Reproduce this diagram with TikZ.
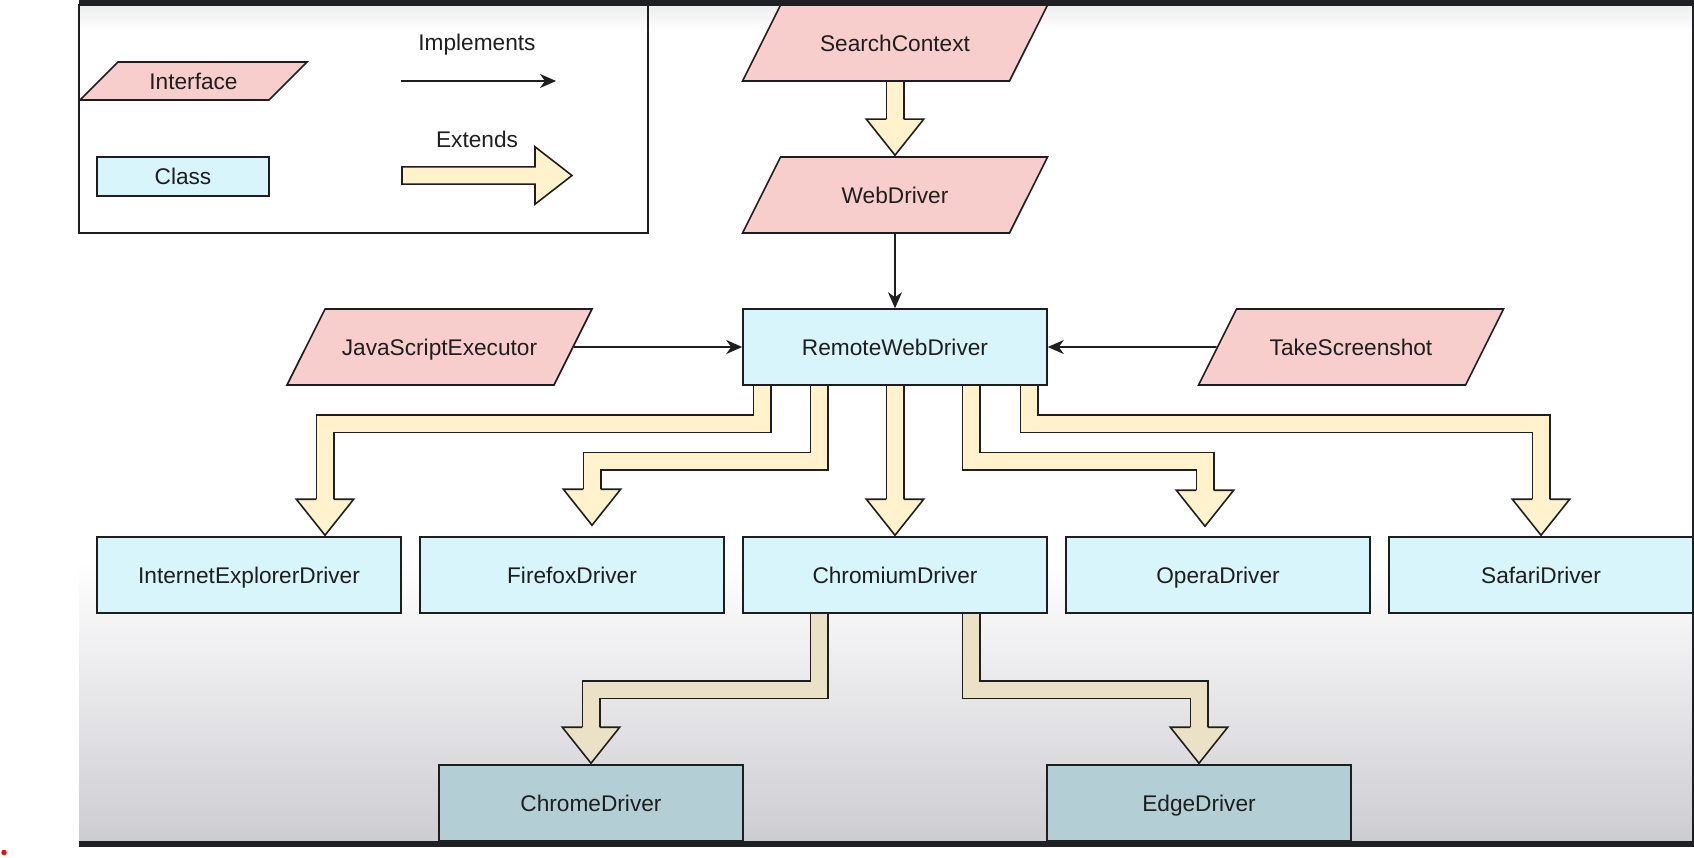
\documentclass[tikz,border=0pt]{standalone}
\usepackage{fontspec}
\setmainfont{Liberation Sans}
\usepackage{tikz}
\usepackage{xcolor}
\usetikzlibrary{shapes.geometric, arrows.meta, calc}

\definecolor{ifacepink}{HTML}{F8CECC}
\definecolor{classcyan}{HTML}{D7F5FB}
\definecolor{classteal}{HTML}{B3CFD5}
\definecolor{extcream}{HTML}{FFF2CC}
\definecolor{exttan}{HTML}{EBE1C6}
\definecolor{edgeline}{HTML}{1E1E1E}
\definecolor{screenframe}{HTML}{1F2024}
\definecolor{screenshade}{HTML}{CDCCD1}

\newcommand{\nodefont}{\fontsize{12.9}{15}\selectfont}

\tikzstyle{iface-block} = [
    trapezium, trapezium left angle=63.43, trapezium right angle=116.57,
    trapezium stretches body, minimum width=6.1cm,
    inner xsep=0pt, inner ysep=0.6cm, text height=0.32cm, text depth=0cm,
    text centered, draw=edgeline, line width=0.9pt,
    fill=ifacepink, text=edgeline, font=\nodefont
]
\tikzstyle{class-block} = [
    rectangle, minimum width=6.08cm, minimum height=1.52cm, inner sep=0pt,
    text height=0.32cm, text depth=0cm,
    text centered, draw=edgeline, line width=0.9pt, fill=classcyan,
    text=edgeline, font=\nodefont
]
\tikzstyle{sub-block} = [class-block, fill=classteal]
\tikzstyle{arrow} = [line width=0.9pt, draw=edgeline,
    -{Stealth[length=0.32cm, width=0.28cm, inset=0.1cm]}]

% fat hollow arrow: [fill] {shaft path} {head base}
\newcommand{\extendsarrow}[3][extcream]{
    \draw [line width=0.38cm, edgeline, line join=miter] #2;
    \draw [line width=0.316cm, #1, line join=miter] #2;
    \draw [line width=0.9pt, draw=edgeline, fill=#1] ([xshift=-0.174cm]#3)
        -- ++(-0.4,0) -- ++(0.574,-0.72) -- ++(0.574,0.72) -- ++(-0.4,0);
}

\begin{document}
\begin{tikzpicture}[node distance=3.04cm]
            \useasboundingbox (0,0) rectangle (33.88,-17.14);
            \fill [white] (0,0) rectangle (33.88,-17.14);
            \shade [top color=black!7, bottom color=white] (1.58,-0.1) rectangle (33.84,-0.6);
            \shade [top color=white, bottom color=screenshade] (1.58,-11.2) rectangle (33.84,-16.82);

            % legend
            \draw [line width=0.8pt, edgeline] (1.58,-0.1) rectangle (12.96,-4.66);
            \node (legend-iface) [iface-block, trapezium left angle=45, trapezium right angle=135,
                minimum width=4.54cm, inner ysep=0.22cm] at (3.87,-1.62) {Interface};
            \node (legend-class) [class-block, minimum width=3.44cm, minimum height=0.78cm]
                at (3.66,-3.53) {Class};
            \node (legend-impl) [font=\nodefont, text=edgeline] at (9.54,-0.9) {Implements};
            \node (legend-ext) [font=\nodefont, text=edgeline] at (9.54,-2.78) {Extends};
            \coordinate (impl-a) at (8.02,-1.62);
            \coordinate (impl-b) at (11.12,-1.62);
            \draw [arrow] (impl-a) -- (impl-b);
            \coordinate (ext-a) at (8.04,-3.51);
            \coordinate (ext-b) at (10.70,-3.51);
            \draw [line width=0.9pt, draw=edgeline, fill=extcream] ([yshift=-0.174cm]ext-a)
                -- ([yshift=0.174cm]ext-a) -- ([yshift=0.174cm]ext-b) -- ++(0,0.4)
                -- ++(0.74,-0.574) -- ++(-0.74,-0.574) -- ++(0,0.4) -- cycle;

            % interfaces
            \node (search) [iface-block] at (17.9,-0.86) {SearchContext};
            \node (webdriver) [iface-block, below of=search] {WebDriver};
            \node (remote) [class-block, below of=webdriver] {RemoteWebDriver};
            \node (jsexec) [iface-block, node distance=9.11cm, left of=remote] {JavaScriptExecutor};
            \node (screenshot) [iface-block, node distance=9.12cm, right of=remote] {TakeScreenshot};

            % drivers
            \node (chromium) [class-block, node distance=4.56cm, below of=remote] {ChromiumDriver};
            \node (firefox) [class-block, node distance=6.46cm, left of=chromium] {FirefoxDriver};
            \node (ie) [class-block, node distance=6.46cm, left of=firefox] {InternetExplorerDriver};
            \node (opera) [class-block, node distance=6.46cm, right of=chromium] {OperaDriver};
            \node (safari) [class-block, node distance=6.46cm, right of=opera] {SafariDriver};
            \node (chrome) [sub-block, node distance=4.56cm, below of=chromium, xshift=-6.08cm] {ChromeDriver};
            \node (edge) [sub-block, node distance=4.56cm, below of=chromium, xshift=6.08cm] {EdgeDriver};

            \draw [arrow] (webdriver) -- (remote);
            \draw [arrow] (jsexec) -- (remote);
            \draw [arrow] (screenshot) -- (remote);

            \coordinate (wd-head) at ($(webdriver.center |- webdriver.north)+(0,0.74)$);
            \coordinate (ie-head) at ([xshift=1.52cm, yshift=0.74cm]ie.north);
            \coordinate (ff-head) at ([xshift=0.4cm, yshift=0.94cm]firefox.north);
            \coordinate (cr-head) at ([yshift=0.74cm]chromium.north);
            \coordinate (op-head) at ([xshift=-0.26cm, yshift=0.92cm]opera.north);
            \coordinate (sf-head) at ([yshift=0.74cm]safari.north);
            \coordinate (ch-head) at ([yshift=0.74cm]chrome.north);
            \coordinate (ed-head) at ([yshift=0.74cm]edge.north);

            \extendsarrow{(search.center |- search.south) -- (wd-head)}{wd-head}
            \extendsarrow{([xshift=-2.66cm]remote.south) -- ++(0,-0.76) -| (ie-head)}{ie-head}
            \extendsarrow{([xshift=-1.52cm]remote.south) -- ++(0,-1.51) -| (ff-head)}{ff-head}
            \extendsarrow{(remote.south) -- (cr-head)}{cr-head}
            \extendsarrow{([xshift=1.52cm]remote.south) -- ++(0,-1.51) -| (op-head)}{op-head}
            \extendsarrow{([xshift=2.68cm]remote.south) -- ++(0,-0.76) -| (sf-head)}{sf-head}
            \extendsarrow[exttan]{([xshift=-1.52cm]chromium.south) -- ++(0,-1.52) -| (ch-head)}{ch-head}
            \extendsarrow[exttan]{([xshift=1.52cm]chromium.south) -- ++(0,-1.52) -| (ed-head)}{ed-head}

            % screen frame
            \fill [screenframe] (1.58,0) rectangle (33.88,-0.11);
            \fill [screenframe] (1.58,-16.82) rectangle (33.88,-16.94);
            \fill [screenframe] (33.84,0) rectangle (33.88,-16.94);
            \fill [red] (0.08,-17.05) circle (0.055);
        \end{tikzpicture}
\end{document}
